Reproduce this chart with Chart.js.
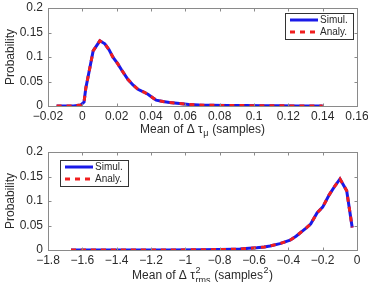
<!DOCTYPE html>
<html>
<head>
<meta charset="utf-8">
<script src="https://cdn.jsdelivr.net/npm/chart.js@4.4.1/dist/chart.umd.min.js"></script>
<style>
  html, body { margin: 0; padding: 0; background: #fff; }
  #wrap { position: relative; width: 368px; height: 282px; }
  .panel { position: absolute; left: 0; width: 368px; height: 141px; }
</style>
</head>
<body>
<div id="wrap">
  <div class="panel" style="top:0"><canvas id="top-chart" width="368" height="141"></canvas></div>
  <div class="panel" style="top:141px"><canvas id="bottom-chart" width="368" height="141"></canvas></div>
</div>
<script>
/* ---- data: top panel (mean of delta tau_mu) ---- */
const topX = [-0.015, -0.01, -0.005, -0.001, 0.001, 0.002, 0.0045, 0.0063, 0.0102, 0.0131,
  0.0155, 0.0179, 0.0205, 0.0228, 0.0266, 0.0295, 0.0324, 0.0355, 0.0382, 0.041,
  0.043, 0.047, 0.0508, 0.0567, 0.062, 0.068, 0.075, 0.085, 0.095, 0.105, 0.115, 0.125, 0.14];
const topSimul = [0, 0, 0, 0.002, 0.008, 0.036, 0.08, 0.1125, 0.133, 0.127,
  0.115, 0.099, 0.087, 0.074, 0.054, 0.043, 0.034, 0.029, 0.024, 0.017,
  0.012, 0.009, 0.007, 0.005, 0.003, 0.002, 0.0015, 0.001, 0.0008, 0.0005, 0.0003, 0.0002, 0.0001];
const topAnaly = [0, 0, 0, 0.002, 0.008, 0.036, 0.08, 0.1125, 0.133, 0.127,
  0.115, 0.099, 0.087, 0.074, 0.054, 0.043, 0.034, 0.029, 0.024, 0.017,
  0.012, 0.009, 0.007, 0.005, 0.003, 0.002, 0.0015, 0.001, 0.0008, 0.0005, 0.0003, 0.0002, 0.0001];
const topXTicks = [-0.02, 0, 0.02, 0.04, 0.06, 0.08, 0.1, 0.12, 0.14, 0.16];

/* ---- data: bottom panel (mean of delta tau_rms^2) ---- */
const botX = [-1.666, -1.5, -1.3, -1.1, -0.9, -0.8, -0.72, -0.682, -0.63, -0.585,
  -0.54, -0.507, -0.449, -0.39, -0.355, -0.322, -0.295, -0.27, -0.232, -0.2,
  -0.162, -0.128, -0.099, -0.06, -0.028];
const botSimul = [0, 0, 0, 0, 0.0005, 0.001, 0.0015, 0.002, 0.0035, 0.0045,
  0.006, 0.0083, 0.013, 0.02, 0.028, 0.0375, 0.045, 0.053, 0.076, 0.0875,
  0.1125, 0.131, 0.145, 0.121, 0.046];
const botAnaly = [0, 0, 0, 0, 0.0005, 0.001, 0.0015, 0.002, 0.0035, 0.0045,
  0.006, 0.0083, 0.013, 0.02, 0.028, 0.0375, 0.045, 0.053, 0.076, 0.0875,
  0.1125, 0.131, 0.145, 0.121, 0.046];
const botXTicks = [-1.8, -1.6, -1.4, -1.2, -1, -0.8, -0.6, -0.4, -0.2, 0];

const yTicks = [0, 0.05, 0.1, 0.15, 0.2];
const seriesLabels = ['Simul.', 'Analy.'];

/* ---- styles ---- */
const FONT = '"Liberation Sans", Arial, sans-serif';
const TEXT = '#2a2a2a';
const FRAME = '#8a8a8a';
const BLUE = '#1a1ae8';
const RED = '#f01e1e';

function fmt(v) {
  const s = String(Number(v.toFixed(3)));
  return s.replace('-', '\u2212');
}

/* rich text: segments {t, mode} with mode '', 'sub', 'sup', 'stack' (sup/sub pair) */
function drawRich(ctx, segs, cx, cy) {
  const big = '12px ' + FONT, small = '9px ' + FONT;
  const widths = segs.map(s => {
    if (s.mode === 'stack') {
      ctx.font = small;
      return Math.max(ctx.measureText(s.sup).width, ctx.measureText(s.sub).width) + 1;
    }
    ctx.font = s.mode ? small : big;
    return ctx.measureText(s.t).width + (s.mode ? 1 : 0);
  });
  let x = cx - widths.reduce((a, b) => a + b, 0) / 2;
  ctx.textBaseline = 'middle';
  ctx.textAlign = 'left';
  ctx.fillStyle = TEXT;
  segs.forEach((s, i) => {
    if (s.mode === 'stack') {
      ctx.font = small;
      ctx.fillText(s.sup, x + 0.5, cy - 5);
      ctx.fillText(s.sub, x + 0.5, cy + 5);
    } else if (s.mode === 'sub') {
      ctx.font = small;
      ctx.fillText(s.t, x + 0.5, cy + 4);
    } else if (s.mode === 'sup') {
      ctx.font = small;
      ctx.fillText(s.t, x + 0.5, cy - 5);
    } else {
      ctx.font = big;
      ctx.fillText(s.t, x, cy);
    }
    x += widths[i];
  });
}

/* frame, inward ticks, x title and legend box */
const framePlugin = {
  id: 'frame',
  afterDraw(chart, args, opts) {
    const { ctx, chartArea: a, scales } = chart;
    ctx.save();
    ctx.strokeStyle = FRAME;
    ctx.lineWidth = 1;
    const L = Math.round(a.left) + 0.5, R = Math.round(a.right) + 0.5;
    const T = Math.round(a.top) + 0.5, B = Math.round(a.bottom) + 0.5;
    ctx.strokeRect(L, T, R - L, B - T);
    ctx.beginPath();
    scales.x.ticks.forEach(t => {
      const px = Math.round(scales.x.getPixelForValue(t.value)) + 0.5;
      ctx.moveTo(px, B); ctx.lineTo(px, B - 3);
      ctx.moveTo(px, T); ctx.lineTo(px, T + 3);
    });
    scales.y.ticks.forEach(t => {
      const py = Math.round(scales.y.getPixelForValue(t.value)) + 0.5;
      ctx.moveTo(L, py); ctx.lineTo(L + 3, py);
      ctx.moveTo(R, py); ctx.lineTo(R - 3, py);
    });
    ctx.stroke();

    drawRich(ctx, opts.title, (a.left + a.right) / 2, a.bottom + opts.titleOffset);

    // legend
    const lg = opts.legend;
    ctx.fillStyle = '#fff';
    ctx.fillRect(lg.x, lg.y, lg.w, lg.h);
    ctx.strokeStyle = '#333';
    ctx.strokeRect(lg.x + 0.5, lg.y + 0.5, lg.w, lg.h);
    chart.data.datasets.slice().sort((p, q) => p.legendIndex - q.legendIndex).forEach((ds, i) => {
      const yy = lg.y + 7 + i * 12;
      ctx.beginPath();
      ctx.strokeStyle = ds.borderColor;
      ctx.lineWidth = 3;
      ctx.setLineDash(ds.borderDash || []);
      ctx.moveTo(lg.x + 5, yy);
      ctx.lineTo(lg.x + 33, yy);
      ctx.stroke();
      ctx.setLineDash([]);
      ctx.font = '10px ' + FONT;
      ctx.fillStyle = TEXT;
      ctx.textAlign = 'left';
      ctx.textBaseline = 'middle';
      ctx.fillText(ds.label, lg.x + 35, yy + 0.5);
    });
    ctx.restore();
  }
};

function makeChart(id, xs, simul, analy, xTicks, xMin, xMax, pad, xAxisH, plug) {
  const pts = ys => xs.map((x, i) => ({ x, y: ys[i] }));
  return new Chart(document.getElementById(id), {
    type: 'scatter',
    data: {
      datasets: [
        { label: seriesLabels[0], data: pts(simul), legendIndex: 0, order: 1,
          borderColor: BLUE, borderWidth: 3, showLine: true, pointRadius: 0, tension: 0 },
        { label: seriesLabels[1], data: pts(analy), legendIndex: 1, order: 0,
          borderColor: RED, borderWidth: 3, borderDash: [5, 5], showLine: true, pointRadius: 0, tension: 0 },
      ],
    },
    options: {
      responsive: false,
      animation: false,
      layout: { padding: pad },
      plugins: { legend: { display: false }, tooltip: { enabled: false }, frame: plug },
      scales: {
        x: {
          type: 'linear', min: xMin, max: xMax,
          afterBuildTicks: s => { s.ticks = xTicks.map(v => ({ value: v })); },
          afterFit: s => { s.height = xAxisH; s.paddingLeft = 0; s.paddingRight = 0; },
          ticks: { callback: v => fmt(v), color: TEXT, font: { family: FONT, size: 12 }, padding: 3, maxRotation: 0, autoSkip: false },
          grid: { display: false, drawTicks: false },
          border: { display: false },
        },
        y: {
          type: 'linear', min: 0, max: 0.2,
          afterBuildTicks: s => { s.ticks = yTicks.map(v => ({ value: v })); },
          afterFit: s => { s.width = 48; s.paddingTop = 0; s.paddingBottom = 0; },
          ticks: { callback: v => fmt(v), color: TEXT, font: { family: FONT, size: 12 }, padding: 5 },
          grid: { display: false, drawTicks: false },
          border: { display: false },
          title: { display: true, text: 'Probability', color: TEXT, font: { family: FONT, size: 12 }, padding: { top: 3, bottom: 0 } },
        },
      },
    },
    plugins: [framePlugin],
  });
}

makeChart('top-chart', topX, topSimul, topAnaly, topXTicks, -0.02, 0.16,
  { top: 8, right: 11, left: 0, bottom: 0 }, 35,
  {
    title: [{ t: 'Mean of \u0394 \u03c4', mode: '' }, { t: '\u03bc', mode: 'sub' }, { t: ' (samples)', mode: '' }],
    titleOffset: 24,
    legend: { x: 285, y: 13, w: 68, h: 26 },
  });

makeChart('bottom-chart', botX, botSimul, botAnaly, botXTicks, -1.8, 0,
  { top: 11, right: 11, left: 0, bottom: 0 }, 32,
  {
    title: [{ t: 'Mean of \u0394 \u03c4', mode: '' }, { mode: 'stack', sup: '2', sub: 'rms' },
      { t: ' (samples', mode: '' }, { t: '2', mode: 'sup' }, { t: ')', mode: '' }],
    titleOffset: 26,
    legend: { x: 60, y: 19, w: 68, h: 26 },
  });
</script>
</body>
</html>
